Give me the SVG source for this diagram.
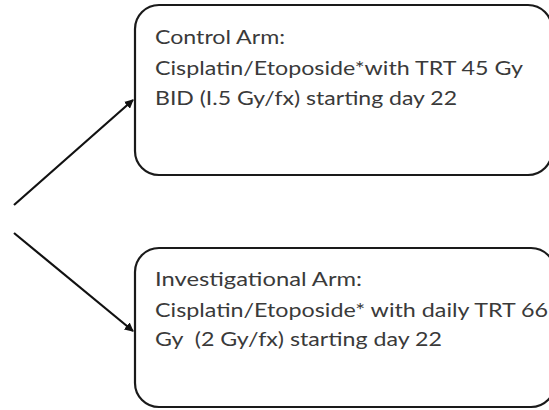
<svg xmlns="http://www.w3.org/2000/svg" width="549" height="410" viewBox="0 0 549 410">
<defs>
<marker id="ah" markerWidth="9" markerHeight="9" refX="8" refY="4.5" orient="auto" markerUnits="userSpaceOnUse">
<path d="M0,0 L9,4.5 L0,9 z" fill="#111"/>
</marker>
<style>
.box{fill:#fff;stroke:#1a1a1a;stroke-width:2.2}
.t{font-family:Lato,"Liberation Sans",Arial,sans-serif;font-size:19.5px;fill:#3a3a3a}
.c{stroke:#111;stroke-width:2.2;fill:none}
</style>
</defs>
<rect width="549" height="410" fill="#fff"/>
<g id="connectors">
<path class="c" d="M14,205 L133,100" marker-end="url(#ah)"/>
<path class="c" d="M14,233 L133,331" marker-end="url(#ah)"/>
</g>
<g id="control">
<rect class="box" x="135" y="5" width="417" height="170" rx="24"/>
<text class="t" x="155" y="44" textLength="130" lengthAdjust="spacingAndGlyphs">Control Arm:</text>
<text class="t" x="155" y="75" textLength="368" lengthAdjust="spacingAndGlyphs">Cisplatin/Etoposide*with TRT 45 Gy</text>
<text class="t" x="155" y="105" textLength="302" lengthAdjust="spacingAndGlyphs">BID (I.5 Gy/fx) starting day 22</text>
</g>
<g id="investigational">
<rect class="box" x="135" y="248" width="420" height="159" rx="24"/>
<text class="t" x="155" y="286" textLength="207" lengthAdjust="spacingAndGlyphs">Investigational Arm:</text>
<text class="t" x="155" y="317" textLength="393" lengthAdjust="spacingAndGlyphs">Cisplatin/Etoposide* with daily TRT 66</text>
<text class="t" x="155" y="346" textLength="287" lengthAdjust="spacingAndGlyphs" xml:space="preserve">Gy  (2 Gy/fx) starting day 22</text>
</g>
</svg>
